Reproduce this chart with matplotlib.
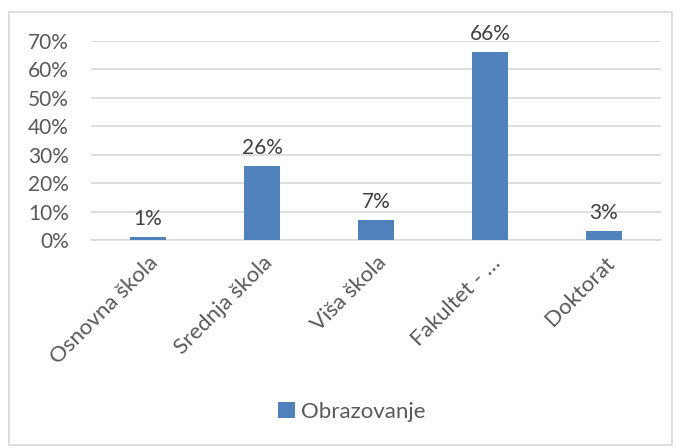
import matplotlib
matplotlib.use('Agg')
import matplotlib.pyplot as plt
from matplotlib.patches import Rectangle

# podaci
kategorije = ['Osnovna škola', 'Srednja škola', 'Viša škola', 'Fakultet - …', 'Doktorat']
vrijednosti = [0.01, 0.26, 0.07, 0.66, 0.03]
oznake = ['1%', '26%', '7%', '66%', '3%']
y_ticks = [0, 0.1, 0.2, 0.3, 0.4, 0.5, 0.6, 0.7]
y_labels = ['0%', '10%', '20%', '30%', '40%', '50%', '60%', '70%']
serija = 'Obrazovanje'

plt.rcParams['font.family'] = ['Lato', 'DejaVu Sans']
boja = '#4F81BD'
tekst = '#595959'
mreza = '#D9D9D9'
fs = 15

fig = plt.figure(figsize=(6.77, 4.48), dpi=100)
ax = fig.add_axes([91 / 677, 1 - 240 / 448, 570 / 677, 199 / 448])

x = range(len(kategorije))
bars = ax.bar(x, vrijednosti, width=0.316, color=boja, label=serija, zorder=3)

for b, t in zip(bars, oznake):
    ax.annotate(t, (b.get_x() + b.get_width() / 2, b.get_height()),
                xytext=(0, 6), textcoords='offset points',
                ha='center', va='bottom', fontsize=fs, color='#404040')

ax.set_xlim(-0.5, len(kategorije) - 0.5)
ax.set_ylim(0, 0.7)
ax.set_yticks(y_ticks)
ax.set_yticklabels(y_labels, fontsize=fs, color=tekst)
ax.set_xticks(list(x))
ax.set_xticklabels(kategorije, rotation=45, ha='right', va='top',
                   rotation_mode='anchor', fontsize=16, color=tekst)
ax.tick_params(axis='y', length=0, pad=16)
ax.tick_params(axis='x', length=0, pad=9)
ax.grid(axis='y', color=mreza, linewidth=1.2, zorder=0)
for s in ['top', 'right', 'left']:
    ax.spines[s].set_visible(False)
ax.spines['bottom'].set_color(mreza)
ax.spines['bottom'].set_linewidth(1.2)

fig.legend(loc='center', bbox_to_anchor=(0.52, 1 - 412 / 448), frameon=False,
           fontsize=16, labelcolor=tekst, handlelength=0.75, handleheight=0.75,
           handletextpad=0.3)

# okvir grafikona
fig.patches.append(Rectangle((9 / 677, 3 / 448), 663 / 677, 433 / 448,
                             transform=fig.transFigure, fill=False,
                             edgecolor=mreza, linewidth=1.2))

fig.savefig('out.png', dpi=100)
